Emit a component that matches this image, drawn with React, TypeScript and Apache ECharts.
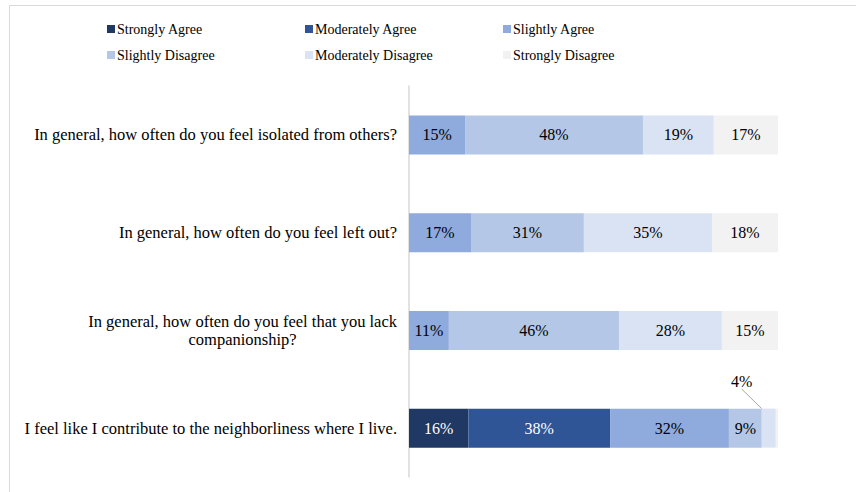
import React, { useEffect, useRef } from "react";
import * as echarts from "echarts";

const categories = [
  "In general, how often do you feel isolated from others?",
  "In general, how often do you feel left out?",
  "In general, how often do you feel that you lack\ncompanionship?",
  "I feel like I contribute to the neighborliness where I live.",
];

const seriesNames = [
  "Strongly Agree",
  "Moderately Agree",
  "Slightly Agree",
  "Slightly Disagree",
  "Moderately Disagree",
  "Strongly Disagree",
];

const stronglyAgree = [null, null, null, 16.1];
const moderatelyAgree = [null, null, null, 38.4];
const slightlyAgree = [15.2, 16.8, 10.8, 32.2];
const slightlyDisagree = [48.2, 30.6, 46.1, 8.9];
const moderatelyDisagree = [19.2, 34.7, 27.9, 3.8];
const stronglyDisagree = [17.4, 17.9, 15.2, 0.6];

const seriesValues = [
  stronglyAgree,
  moderatelyAgree,
  slightlyAgree,
  slightlyDisagree,
  moderatelyDisagree,
  stronglyDisagree,
];

const colors = ["#1f3864", "#2f5597", "#8faadc", "#b4c7e7", "#dae3f3", "#f2f2f2"];
const labelColors = ["#ffffff", "#ffffff", "#000000", "#000000", "#000000", "#000000"];

const FONT = "Liberation Serif";

export default function App() {
  const ref = useRef<HTMLDivElement>(null);
  useEffect(() => {
    if (!ref.current) return;
    const chart = echarts.init(ref.current, null, { renderer: "svg" });

    const series = seriesNames.map((name, si) => ({
      name,
      type: "bar",
      stack: "total",
      barWidth: 39,
      itemStyle: { color: colors[si] },
      data: seriesValues[si].map((v) => {
        if (v === null) return { value: null };
        if (v < 1) return { value: v, label: { show: false } };
        return { value: v };
      }),
      label: {
        show: true,
        position: "inside",
        color: labelColors[si],
        fontFamily: FONT,
        fontSize: 16,
        formatter: (p: any) => (p.value == null ? "" : Math.round(p.value) + "%"),
      },
      labelLayout:
        si === 4
          ? (p: any) => (p.dataIndex === 3 ? { dx: -27, dy: -47 } : {})
          : undefined,
      labelLine:
        si === 4
          ? { show: true, lineStyle: { color: "#a6a6a6", width: 1 } }
          : undefined,
    }));

    const legendCols = [
      { left: 107, data: [seriesNames[0], seriesNames[3]] },
      { left: 305, data: [seriesNames[1], seriesNames[4]] },
      { left: 503, data: [seriesNames[2], seriesNames[5]] },
    ];

    chart.setOption({
      animation: false,
      backgroundColor: "#ffffff",
      textStyle: { fontFamily: FONT },
      legend: legendCols.map((c) => ({
        orient: "vertical",
        left: c.left,
        top: 21,
        padding: 0,
        itemWidth: 8,
        itemHeight: 8,
        itemGap: 10,
        icon: "rect",
        selectedMode: false,
        textStyle: { fontFamily: FONT, fontSize: 14, color: "#000", lineHeight: 16, padding: [0, 0, 0, -3] },
        data: c.data,
      })),
      graphic: [
        {
          type: "rect",
          shape: { x: 9.5, y: 5.5, width: 1200, height: 1200 },
          style: { fill: "none", stroke: "#d9d9d9", lineWidth: 1 },
          silent: true,
          z: -10,
        },
      ],
      grid: { left: 409, top: 86, width: 369, height: 391, containLabel: false },
      xAxis: { type: "value", min: 0, max: 100, show: false },
      yAxis: {
        type: "category",
        inverse: true,
        data: categories,
        axisLine: { show: true, lineStyle: { color: "#d9d9d9", width: 1.5 } },
        axisTick: { show: false },
        axisLabel: {
          margin: 12,
          color: "#000",
          fontFamily: FONT,
          fontSize: 16.5,
          lineHeight: 18,
          align: "right",
          formatter: (v: string) =>
            v
              .split("\n")
              .map((l) => `{c|${l}}`)
              .join("\n"),
          rich: { c: { align: "center", fontFamily: FONT, fontSize: 16.5, lineHeight: 18, color: "#000" } },
        },
      },
      series,
    });
    return () => chart.dispose();
  }, []);
  return (
    <div
      ref={ref}
      style={{ position: "absolute", left: 0, top: 0, width: 856, height: 492 }}
    />
  );
}
